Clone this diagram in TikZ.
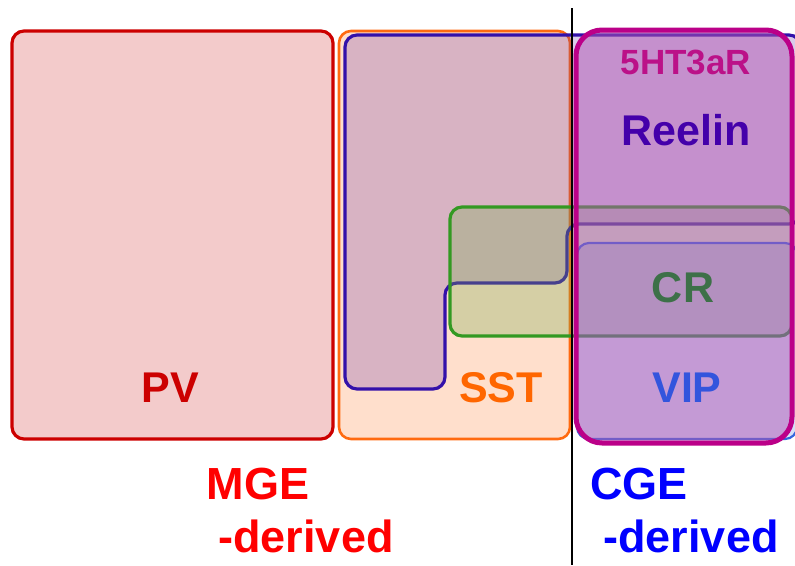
\documentclass[tikz,border=0pt]{standalone}
\usepackage{fontspec}
\setmainfont{Liberation Sans}
\definecolor{pvline}{HTML}{CC0000}
\definecolor{pvfill}{HTML}{F3CBCB}
\definecolor{sstline}{HTML}{FF6A10}
\definecolor{sstfill}{HTML}{FFDFCC}
\definecolor{reline}{HTML}{3311AA}
\definecolor{refill}{HTML}{6633AA}
\definecolor{crline}{HTML}{339922}
\definecolor{crfill}{HTML}{76AD4D}
\definecolor{vipline}{HTML}{3366DD}
\definecolor{htline}{HTML}{BB0088}
\definecolor{htfill}{HTML}{B255B2}
\definecolor{httext}{HTML}{BB1188}
\definecolor{retext}{HTML}{4400AA}
\definecolor{crtext}{HTML}{3D7048}
\definecolor{viptext}{HTML}{3355DD}
\definecolor{ssttext}{HTML}{FF6600}
\tikzset{
  lbl/.style={inner sep=0pt, anchor=base, font=\bfseries\fontsize{43}{50}\selectfont},
  biglbl/.style={inner sep=0pt, anchor=base, font=\bfseries\fontsize{45}{54}\selectfont},
}
\begin{document}
\begin{tikzpicture}[x=1pt,y=-1pt]
\path[use as bounding box] (0,0) rectangle (795,565);
% PV
\draw[pvline, fill=pvfill, line width=3.2pt, rounded corners=12pt] (12,31) rectangle (333,439);
% SST
\draw[sstline, fill=sstfill, line width=2.6pt, rounded corners=12pt] (339,31) rectangle (570,439);
% Reelin
\draw[reline, line width=3.2pt, fill=refill, fill opacity=0.25, rounded corners=12pt]
  (345,200) -- (345,35) -- (801,35) -- (801,224) -- (567,224) -- (567,283) -- (445,283) -- (445,389) -- (345,389) -- cycle;
% CR
\draw[crline, line width=3.2pt, fill=crfill, fill opacity=0.3, rounded corners=12pt] (450,207) rectangle (792,336);
% VIP
\draw[vipline, line width=2.2pt, fill=vipline, fill opacity=0.2, rounded corners=12pt] (577,243) rectangle (797,439);
% 5HT3aR
\draw[htline, line width=5pt, fill=htfill, fill opacity=0.5, rounded corners=26pt] (576,30) rectangle (792,443);
% divider
\coordinate (dtop) at (571.5,8);
\coordinate (dbot) at (571.5,565);
\draw[black, line width=2pt] (dtop) -- (dbot);
% labels
\node[lbl, text=httext, font=\bfseries\fontsize{35}{42}\selectfont] (ht) at (686,74) {5HT3aR};
\node[lbl, text=retext] (reelin) at (686,145) {Reelin};
\node[lbl, text=crtext] (cr) at (683,302) {CR};
\node[lbl, text=viptext] (vip) at (687,402) {VIP};
\node[lbl, text=ssttext] (sst) at (501,402) {SST};
\node[lbl, text=pvline] (pv) at (170,402) {PV};
\node[biglbl, text=red] (mge) at (258,499) {MGE};
\node[biglbl, text=red] (mged) at (306,552) {-derived};
\node[biglbl, text=blue] (cge) at (639,499) {CGE};
\node[biglbl, text=blue] (cged) at (691,552) {-derived};
\end{tikzpicture}
\end{document}
